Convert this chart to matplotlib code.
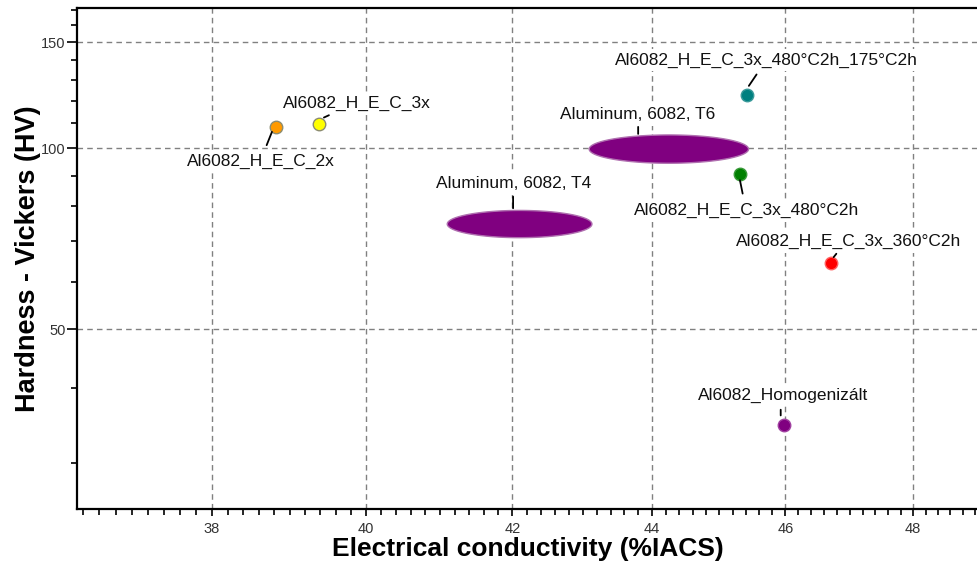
import numpy as np
import matplotlib
matplotlib.use('Agg')
import matplotlib.pyplot as plt
from matplotlib.transforms import Affine2D
from matplotlib.ticker import NullFormatter

plt.rcParams['font.family'] = ['Liberation Sans', 'DejaVu Sans']

# measured samples
names = ['Al6082_H_E_C_2x', 'Al6082_H_E_C_3x', 'Al6082_H_E_C_3x_480°C2h_175°C2h',
         'Al6082_H_E_C_3x_480°C2h', 'Al6082_H_E_C_3x_360°C2h', 'Al6082_Homogenizált']
cond = [38.82, 39.38, 45.41, 45.31, 46.70, 45.98]
hv = [108.5, 109.9, 122.5, 90.5, 64.4, 34.7]
colors = ['#ff9a00', '#ffff00', '#008080', '#008000', '#ff0000', '#800080']
edges = ['#8c8c70', '#8c8c70', '#3a9a9a', '#3a9a3a', '#ff6060', '#a040a0']

# database ranges (conductivity low/high, hardness low/high)
ref_names = ['Aluminum, 6082, T4', 'Aluminum, 6082, T6']
ref_cond = [(41.10, 43.13), (43.09, 45.44)]
ref_hv = [(71.0, 78.8), (94.4, 105.2)]

xticks = [38, 40, 42, 44, 46, 48]
yticks = [50, 100, 150]

# label placement, pixel offsets from the anchor: text centre, leader start, leader end
pt_text = [(-15, -35), (37.5, 20), (19.8, 35), (6.3, -36), (18, 21.5), (-1, 29.5)]
pt_lead = [((-9.3, -18.3), (-4, -5)), ((10, 8.3), (5, 6)), ((10, 20.7), (2.3, 9.3)),
           ((2.7, -19.3), (0, -6)), ((5.7, 9.4), (3, 6)), ((-3.3, 15), (-3.3, 9.3))]
ref_text = [(-6.2, 40.5), (-31.7, 34.5)]
ref_lead = [((-6.5, 27.4), (-6.5, 15.8)), ((-30.7, 22.2), (-30.7, 15.2))]

label_box = dict(boxstyle='square,pad=0.2', fc='white', ec='none')


def leader(ax, x, y, p0, p1):
    t0 = ax.transData + Affine2D().translate(*p0)
    t1 = ax.transData + Affine2D().translate(*p1)
    ax.annotate('', xy=(x, y), xycoords=t1, xytext=(x, y), textcoords=t0,
                arrowprops=dict(arrowstyle='-', color='black', lw=1.3,
                                shrinkA=0, shrinkB=0), zorder=6)


fig = plt.figure(figsize=(9.78, 5.69), dpi=100)
ax = fig.add_axes([0.0787, 0.1054, 0.9213, 0.8805])
ax.set_xscale('log')
ax.set_yscale('log')
ax.set_xlim(36.33, 49.05)
ax.set_ylim(25.13, 171.0)
ax.set_axisbelow(True)

# ellipses for the database ranges, drawn in log space
t = np.linspace(0, 2 * np.pi, 200)
centres = []
for (c0, c1), (h0, h1) in zip(ref_cond, ref_hv):
    lcx, rx = (np.log(c0) + np.log(c1)) / 2, (np.log(c1) - np.log(c0)) / 2
    lcy, ry = (np.log(h0) + np.log(h1)) / 2, (np.log(h1) - np.log(h0)) / 2
    ax.fill(np.exp(lcx + rx * np.cos(t)), np.exp(lcy + ry * np.sin(t)),
            facecolor='#800080', edgecolor='#b070b0', lw=1, zorder=3)
    centres.append((np.exp(lcx), np.exp(lcy)))

for (cx, cy), name, off, (p0, p1) in zip(centres, ref_names, ref_text, ref_lead):
    ax.annotate(name, (cx, cy), xytext=off, textcoords='offset pixels',
                ha='center', va='center', fontsize=12.5, color='#111111',
                bbox=label_box, zorder=5)
    leader(ax, cx, cy, p0, p1)

for x, y, c, e in zip(cond, hv, colors, edges):
    ax.plot(x, y, 'o', ms=9, mfc=c, mec=e, mew=1, zorder=4)

for x, y, name, off, (p0, p1) in zip(cond, hv, names, pt_text, pt_lead):
    ax.annotate(name, (x, y), xytext=off, textcoords='offset pixels',
                ha='center', va='center', fontsize=12.5, color='#111111',
                bbox=label_box, zorder=5)
    leader(ax, x, y, p0, p1)

# ticks
ax.set_xticks(xticks)
ax.set_xticklabels([str(v) for v in xticks])
ax.set_xticks(np.arange(36.4, 49.01, 0.2), minor=True)
ax.xaxis.set_minor_formatter(NullFormatter())
ax.set_yticks(yticks)
ax.set_yticklabels([str(v) for v in yticks])
ax.set_yticks([30, 40, 60, 70, 80, 90, 110, 120, 130, 140, 160, 170], minor=True)
ax.yaxis.set_minor_formatter(NullFormatter())
ax.tick_params(axis='both', which='major', labelsize=10.5, labelcolor='#333333',
               direction='out', width=1.2)
ax.tick_params(axis='x', which='major', length=5, pad=4)
ax.tick_params(axis='y', which='major', length=7, pad=1)
ax.tick_params(axis='both', which='minor', length=4, width=1.2, direction='out')

ax.grid(True, which='major', color='#808080', lw=1.0, linestyle=(0, (4, 3)))

for side in ['left', 'top', 'bottom']:
    ax.spines[side].set_linewidth(1.6)
    ax.spines[side].set_color('black')
ax.spines['right'].set_visible(False)

ax.set_xlabel('Electrical conductivity (%IACS)', fontsize=19, fontweight='bold')
ax.set_ylabel('Hardness - Vickers (HV)', fontsize=19.5, fontweight='bold')
ax.xaxis.set_label_coords(0.5, -0.0798)
ax.yaxis.set_label_coords(-0.054, 0.5)
ax.xaxis.label.set_va('center')
ax.yaxis.label.set_va('center')

fig.savefig('out.png', dpi=100)
